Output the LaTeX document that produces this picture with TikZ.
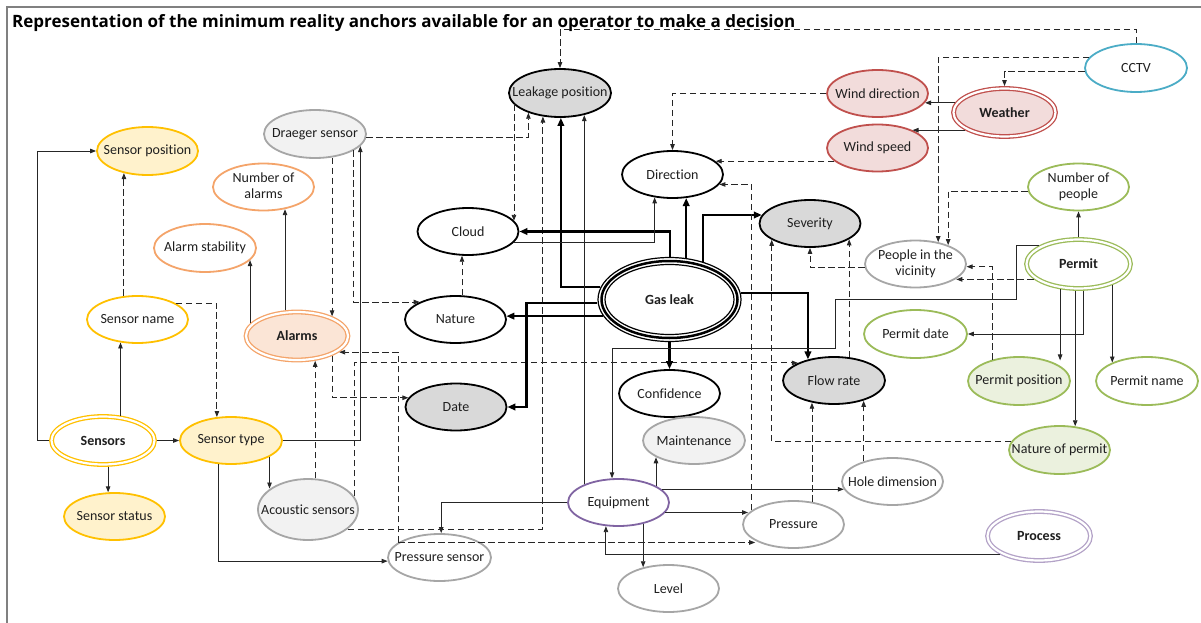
\documentclass[tikz,border=0pt]{standalone}
\usepackage{fontspec}
\setmainfont{Carlito}[Ligatures=NoCommon]
\newfontfamily\titlefont{Open Sans}
\usetikzlibrary{arrows.meta,shapes.geometric}
\definecolor{ylw}{HTML}{FFC000}
\definecolor{ylwf}{HTML}{FFF2CC}
\definecolor{org}{HTML}{F4A46A}
\definecolor{orgf}{HTML}{FBE5D6}
\definecolor{gry}{HTML}{A6A6A6}
\definecolor{gryf}{HTML}{F2F2F2}
\definecolor{dgf}{HTML}{D9D9D9}
\definecolor{rd}{HTML}{C0504D}
\definecolor{rdf}{HTML}{F2DCDB}
\definecolor{blu}{HTML}{4BACC6}
\definecolor{grn}{HTML}{9BBB59}
\definecolor{grnf}{HTML}{EBF1DE}
\definecolor{pur}{HTML}{8064A2}
\definecolor{purl}{HTML}{B3A2C7}
\newcommand\mytxt[1]{\makebox[0pt]{#1}}
\newcommand\mytwo[2]{\makebox[0pt]{\begin{tabular}{@{}c@{}}#1\\#2\end{tabular}}}
\tikzset{
  nd/.style={ellipse, draw, fill=white, minimum width=101pt, minimum height=47pt, inner sep=0pt,
    line width=1.8pt, font=\fontsize{14}{16.5}\selectfont, text=black!88},
  ylwn/.style={nd, draw=ylw, fill=ylwf},
  ylww/.style={nd, draw=ylw},
  orgn/.style={nd, draw=org},
  gryn/.style={nd, draw=gry, fill=gryf},
  gryw/.style={nd, draw=gry},
  blkn/.style={nd, draw=black},
  blkg/.style={nd, draw=black, fill=dgf},
  rdn/.style={nd, draw=rd, fill=rdf},
  grnn/.style={nd, draw=grn},
  grnf/.style={nd, draw=grn, fill=grnf},
  purn/.style={nd, draw=pur},
  dbl/.style={double=white, double distance=2.2pt, line width=1.3pt, outer sep=2.4pt,
    font=\fontsize{14}{16.5}\selectfont\bfseries},
  ln/.style={draw=black!85, line width=0.9pt, -{Triangle[length=6pt,width=4.5pt]}},
  dl/.style={ln, dash pattern=on 6.5pt off 3.5pt},
  tk/.style={draw=black, line width=2.2pt, -{Triangle[length=8pt,width=6.5pt]}},
}
\begin{document}
\begin{tikzpicture}[x=1pt,y=-1pt]
\useasboundingbox (0,0) rectangle (1201,623);
\draw[gray, line width=1.5pt] (7,623) -- (7,7) -- (1201,7);
\node[anchor=base west, font=\titlefont\fontsize{17}{19}\selectfont\bfseries, inner sep=0pt] (title) at (12,27.5)
  {Representation of the minimum reality anchors available for an operator to make a decision};

% nodes
\node[blkg, minimum width=102pt, minimum height=48pt] (LP) at (560,93) {\mytxt{Leakage position}};
\node[gryn, minimum width=102pt, minimum height=48pt] (DS) at (315,134) {\mytxt{Draeger sensor}};
\node[ylwn, minimum height=48pt] (SP) at (147.5,151) {\mytxt{Sensor position}};
\node[orgn] (NA) at (263.5,187) {\mytwo{Number of}{alarms}};
\node[orgn, minimum width=102pt, minimum height=48pt] (AS) at (205,248) {\mytxt{Alarm stability}};
\node[ylww] (SN) at (137.5,319.5) {\mytxt{Sensor name}};
\node[orgn, fill=orgf, dbl, minimum width=102pt, minimum height=48pt] (AL) at (297,336) {\mytxt{Alarms}};
\node[ylww, dbl, minimum width=103pt, minimum height=48pt] (SE) at (103,440.5) {\mytxt{Sensors}};
\node[ylwn, minimum width=102pt] (ST) at (231,440.5) {\mytxt{Sensor type}};
\node[ylwn] (SS) at (114.5,516.5) {\mytxt{Sensor status}};
\node[gryn, minimum width=100pt, minimum height=61pt] (AC) at (308,509.5) {\mytxt{Acoustic sensors}};
\node[blkn] (CL) at (468,231.5) {\mytxt{Cloud}};
\node[blkn] (NT) at (455.5,319.5) {\mytxt{Nature}};
\node[blkg] (DT) at (456,407) {\mytxt{Date}};
\node[blkn] (DR) at (672.5,174.5) {\mytxt{Direction}};
\node[ellipse, minimum width=145pt, minimum height=85pt, inner sep=0pt, outer sep=0pt,
  font=\fontsize{14}{16.5}\selectfont\bfseries, text=black!88] (GL) at (669.5,299.5) {\mytxt{Gas leak}};
\draw[line width=1.2pt] (GL.center) ellipse [x radius=71.5pt, y radius=42pt];
\draw[line width=2.5pt] (GL.center) ellipse [x radius=68pt, y radius=38.5pt];
\draw[line width=1.2pt] (GL.center) ellipse [x radius=64.5pt, y radius=35pt];
\node[blkg] (SV) at (810,223.5) {\mytxt{Severity}};
\node[blkn] (CF) at (669.5,393.5) {\mytxt{Confidence}};
\node[blkg, minimum width=102pt] (FR) at (834,380.5) {\mytxt{Flow rate}};
\node[gryn, minimum width=102pt] (MT) at (694,440.5) {\mytxt{Maintenance}};
\node[purn] (EQ) at (618.5,502.5) {\mytxt{Equipment}};
\node[gryw] (PR) at (793.5,524.5) {\mytxt{Pressure}};
\node[gryw] (HD) at (892.5,481.5) {\mytxt{Hole dimension}};
\node[gryw, minimum width=103pt] (PS) at (439.5,557.5) {\mytxt{Pressure sensor}};
\node[gryw] (LV) at (668.5,588.5) {\mytxt{Level}};
\node[nd, draw=purl, dbl, minimum width=103pt, minimum height=49pt] (PC) at (1039,536) {\mytxt{Process}};
\node[rdn] (WD) at (877.5,93.5) {\mytxt{Wind direction}};
\node[rdn] (WS) at (877.5,148) {\mytxt{Wind speed}};
\node[rdn, dbl, minimum width=102pt, minimum height=48pt] (WE) at (1004.5,112.5) {\mytxt{Weather}};
\node[nd, draw=blu, minimum width=102pt, minimum height=48pt] (CC) at (1136,68) {\mytxt{CCTV}};
\node[grnn] (NP) at (1078.5,187) {\mytwo{Number of}{people}};
\node[gryw] (PV) at (915.5,264) {\mytwo{People in the}{vicinity}};
\node[grnn, dbl, minimum width=104pt, minimum height=49pt] (PM) at (1078.5,264) {\mytxt{Permit}};
\node[grnn, minimum width=103pt, minimum height=48pt] (PD) at (915.5,334) {\mytxt{Permit date}};
\node[grnf, minimum width=102pt, minimum height=48pt] (PP) at (1019,381) {\mytxt{Permit position}};
\node[grnn, minimum width=102pt, minimum height=48pt] (PN) at (1147,381) {\mytxt{Permit name}};
\node[grnf, minimum height=48pt] (NO) at (1059.5,450) {\mytxt{Nature of permit}};

% connectors: sensors
\draw[ln] (SE.west) -- ++(-12,0) |- (SP.west);
\draw[ln] (SE.55) -- (SE.55 |- SN.-127);
\draw[ln] (SE.east) -- (ST.west);
\draw[ln] (SE.-79) -- (SE.-79 |- SS.105);
\draw[dl] (SN.120) -- (SN.120 |- SP.-137);
\draw[dl] (SN.23) -| (ST.121);
\draw[ln] (ST.-23) -- (ST.-23 |- AC.151);
\draw[ln] (ST.-117) |- (PS.184);
\draw[ln] (ST.east) -| (DS.-15.5);
\draw[dl] (DS.-54) -- (DS.-54 |- AL.29);
\draw[dl] (DS.-23) |- (NT.154);
\draw[dl] (DS.-4) -| (LP.-148);
\draw[ln] (AL.115) -- (AL.115 |- NA.-46);
\draw[ln] (AL.165) -- (AL.165 |- AS.-15.5);
\draw[dl] (AC.77) -- (AC.77 |- AL.-54);
\draw[dl] (AL.-29) |- (DT.169);
\draw[dl] (PS.160) |- (AL.-21);
\draw[dl] (PS.160) -- (PS.160 -| PR.-157);
\draw[dl] (AC.-26) -| (LP.-126);
\draw[dl] (AC.16.5) |- (FR.154);
\draw[dl] (LP.-166) -- (LP.-166 |- CL.13);
\draw[dl] (NT.75) -- (NT.75 |- CL.-104);
% gas leak
\draw[tk] (GL.170.6) -| (LP.-88);
\draw[ln] (EQ.152) -- (EQ.152 |- LP.-43);
\draw[tk] (GL.89.5) |- (CL.east);
\draw[ln] (CL.-14) -| (DR.-128);
\draw[tk] (GL.68) -- (GL.68 |- DR.-60);
\draw[tk] (GL.48.4) |- (SV.170);
\draw[tk] (GL.5) -| (FR.141);
\draw[tk] (GL.194) -- (GL.194 -| NT.4);
\draw[tk] (GL.183) -| ([xshift=19pt]DT.east) -- (DT.east);
\draw[tk] (GL.south) -- (CF.north);
% equipment
\draw[ln] (PM.155) -| (1016,299) -| (835,348) -| (EQ.105);
\draw[ln] (EQ.24) -- (EQ.24 |- MT.-156);
\draw[ln] (EQ.17.4) -- (EQ.17.4 -| HD.-171);
\draw[ln] (EQ.-12.7) -- (EQ.-12.7 -| PR.166);
\draw[ln] (EQ.west) -| (PS.86);
\draw[ln] (EQ.-41) -- (EQ.-41 |- LV.140);
\draw[ln] (PC.-154) -| (EQ.-118);
% direction, weather, cctv
\draw[dl] (PR.161) |- (DR.-12.7);
\draw[dl] (WD.west) -| (DR.north);
\draw[dl] (WS.-163) -- (WS.-163 -| DR.17.4);
\draw[ln] (WE.169) -- (WE.169 -| WD.-11.3);
\draw[ln] (WE.-156.5) -- (WE.-156.5 -| WS.27);
\draw[dl] (CC.north) -- ++(0,-14) -| (LP.north);
\draw[dl] (CC.184.5) -| (WE.north);
\draw[dl] (CC.167) -| (PV.44);
\draw[dl] (NP.185.7) -| (PV.30);
% severity, flow rate
\draw[dl] (PV.184.5) -| (SV.south);
\draw[dl] (FR.57.4) -- (FR.57.4 |- SV.-22.3);
\draw[dl] (NO.170.7) -| (SV.-157.7);
\draw[dl] (HD.145.7) -- (HD.145.7 |- FR.-35);
\draw[dl] (PR.51) -- (PR.51 |- FR.-134.7);
% permit
\draw[ln] (PM.north) -- (NP.south);
\draw[dl] (PM.-161.7) -- (PM.-161.7 -| PV.-20.2);
\draw[dl] (PP.141.6) |- (PV.-3.4);
\draw[ln] (PM.-80.5) |- (PD.east);
\draw[ln] (PM.-126.3) -- (PM.-126.3 |- PP.35.6);
\draw[ln] (PM.-97.4) -- (PM.-97.4 |- NO.57);
\draw[ln] (PM.-32.4) -- (PM.-32.4 |- PN.152);
\end{tikzpicture}
\end{document}
